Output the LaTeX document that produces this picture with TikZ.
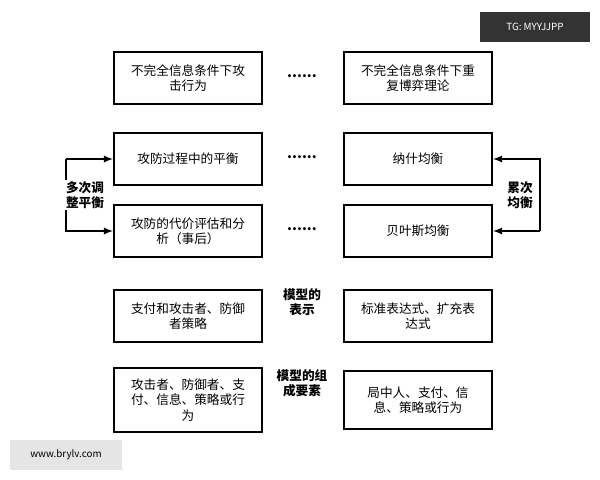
\documentclass[tikz,border=0pt]{standalone}
\usepackage{fontspec}
\setmainfont{Noto Sans CJK SC}
\usetikzlibrary{positioning}
\tikzset{font=\small}
\tikzstyle{box}=[draw,line width=1.4pt,minimum width=3.7cm,minimum height=1.3cm,align=center]
\tikzstyle{dots}=[inner sep=0pt,font=\bfseries]
\tikzstyle{lbl}=[fill=white,inner sep=1pt,align=center,font=\small\bfseries]
\tikzstyle{loop}=[line width=1.2pt,-latex]

\begin{document}
\begin{tikzpicture}[x=0.025cm,y=-0.025cm]
	\useasboundingbox (0,0) rectangle (600,480);
	\fill[black!80] (480,12) rectangle (590,42);
	\node [text=white,font=\scriptsize] (tg) at (535,27) {TG: MYYJJPP};
	\fill[black!10] (10,440) rectangle (122,470);
	\node [font=\scriptsize] (www) at (66,455) {www.brylv.com};
	% left column
	\node [box] (l1) at (188,78) {不完全信息条件下攻\\击行为};
	\node [box] (l2) at (188,159) {攻防过程中的平衡};
	\node [box] (l3) at (188,231) {攻防的代价评估和分\\析（事后）};
	\node [box] (l4) at (188,316) {支付和攻击者、防御\\者策略};
	\node [box,minimum height=1.6cm] (l5) at (188,400) {攻击者、防御者、支\\付、信息、策略或行\\为};
	% right column
	\node [box] (r1) at (418,78) {不完全信息条件下重\\复博弈理论};
	\node [box] (r2) at (418,159) {纳什均衡};
	\node [box] (r3) at (418,231) {贝叶斯均衡};
	\node [box] (r4) at (418,316) {标准表达式、扩充表\\达式};
	\node [box,minimum height=1.45cm] (r5) at (418,400) {局中人、支付、信\\息、策略或行为};
	% middle
	\node [dots] (d1) at (302,76) {......};
	\node [dots] (d2) at (302,157) {......};
	\node [dots] (d3) at (302,229) {......};
	\node [lbl] (m4) at (302,302) {模型的\\表示};
	\node [lbl] (m5) at (302,383) {模型的组\\成要素};
	% loops
	\coordinate (a) at (66,159);
	\coordinate (b) at (66,231);
	\coordinate (c) at (540,159);
	\coordinate (d) at (540,231);
	\draw [loop] (a) to (l2.west);
	\draw [loop] (a) to (b) to (l3.west);
	\draw [loop] (d) to (r3.east);
	\draw [loop] (d) to (c) to (r2.east);
	\node [lbl] (lt) at (85,195) {多次调\\整平衡};
	\node [lbl] (rt) at (520,195) {累次\\均衡};
\end{tikzpicture}
\end{document}
